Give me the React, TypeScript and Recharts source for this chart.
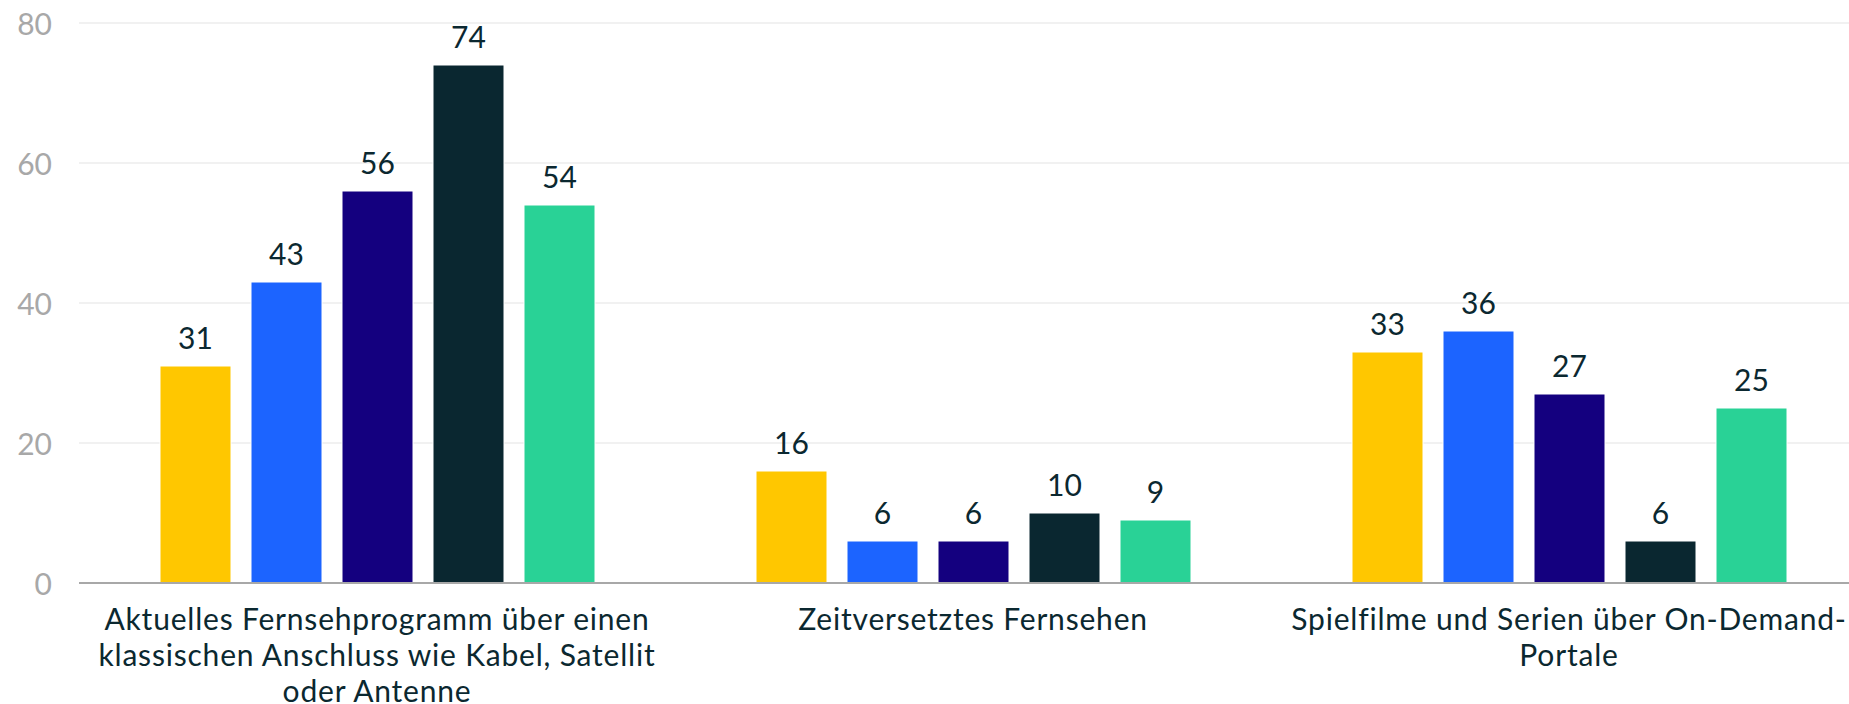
import React from "react";
import { BarChart, Bar, XAxis, YAxis, CartesianGrid, LabelList } from "recharts";

const categories = [
  "Aktuelles Fernsehprogramm über einen\nklassischen Anschluss wie Kabel, Satellit\noder Antenne",
  "Zeitversetztes Fernsehen",
  "Spielfilme und Serien über On-Demand-\nPortale",
];
const seriesA = [31, 16, 33];
const seriesB = [43, 6, 36];
const seriesC = [56, 6, 27];
const seriesD = [74, 10, 6];
const seriesE = [54, 9, 25];
const yTicks = [0, 20, 40, 60, 80];

const seriesKeys = ["a", "b", "c", "d", "e"];
const seriesColors = ["#FFC700", "#1C64FF", "#14007F", "#0A2730", "#29D296"];

const data = categories.map((c, i) => ({
  name: c,
  a: seriesA[i],
  b: seriesB[i],
  c: seriesC[i],
  d: seriesD[i],
  e: seriesE[i],
}));

const FONT = "Lato, 'Open Sans', sans-serif";
const TEXT_COLOR = "#0B2830";

const CategoryTick = (props: any) => {
  const { x, y, payload } = props;
  const lines = String(payload.value).split("\n");
  return (
    <g transform={`translate(${x},${y})`}>
      {lines.map((l: string, i: number) => (
        <text
          key={i}
          x={0}
          y={47 + i * 36}
          textAnchor="middle"
          fill={TEXT_COLOR}
          fontFamily={FONT}
          fontSize={30}
          letterSpacing={0.8}
        >
          {l}
        </text>
      ))}
    </g>
  );
};

export default function App() {
  return (
    <div
      style={{
        position: "fixed",
        left: 0,
        top: 0,
        width: 1849,
        height: 704,
        overflow: "hidden",
        background: "#fff",
      }}
    >
      <BarChart
        width={1867}
        height={704}
        data={data}
        margin={{ top: 23, right: 0, bottom: 0, left: 0 }}
        barCategoryGap={80}
        barGap={20}
      >
        <CartesianGrid vertical={false} stroke="#ececec" strokeWidth={1.5} />
        <XAxis
          dataKey="name"
          height={121}
          tickLine={false}
          tickSize={0}
          tickMargin={0}
          axisLine={{ stroke: "#a8a8a8", strokeWidth: 2 }}
          tick={<CategoryTick />}
          interval={0}
        />
        <YAxis
          width={79}
          domain={[0, 80]}
          ticks={yTicks}
          axisLine={false}
          tickLine={false}
          tickSize={0}
          tickMargin={27}
          tick={{ fill: "#a8a8a8", fontSize: 30, fontFamily: FONT, dy: 1 }}
        />
        {seriesKeys.map((k, i) => (
          <Bar
            key={k}
            dataKey={k}
            fill={seriesColors[i]}
            barSize={71}
            stroke="#ffffff"
            strokeWidth={1}
            isAnimationActive={false}
          >
            <LabelList
              dataKey={k}
              position="top"
              offset={17}
              fill={TEXT_COLOR}
              fontSize={30}
              fontFamily={FONT}
            />
          </Bar>
        ))}
      </BarChart>
    </div>
  );
}
